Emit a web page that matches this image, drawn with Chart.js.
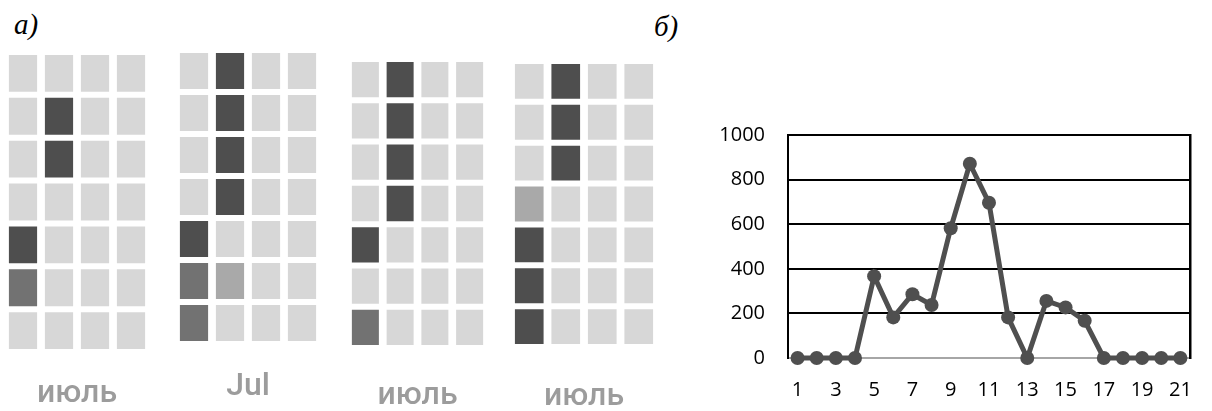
<!DOCTYPE html>
<html>
<head>
<meta charset="utf-8">
<script src="https://cdn.jsdelivr.net/npm/chart.js@4.4.0/dist/chart.umd.min.js"></script>
<style>
  html, body { margin: 0; padding: 0; background: #fff; }
  body { width: 1212px; height: 411px; position: relative; overflow: hidden; }
  .box { position: absolute; }
  .tag { position: absolute; font-family: "Liberation Serif", serif; font-style: italic; font-size: 29px; line-height: 1; color: #000; }
</style>
</head>
<body>
<div class="tag" style="left:14px; top:10px;">а)</div>
<div class="tag" style="left:654px; top:12px;">б)</div>

<div class="box" id="g1"><canvas id="heat1"></canvas></div>
<div class="box" id="g2"><canvas id="heat2"></canvas></div>
<div class="box" id="g3"><canvas id="heat3"></canvas></div>
<div class="box" id="g4"><canvas id="heat4"></canvas></div>
<div class="box" id="lineBox" style="left:690px; top:100px; width:522px; height:311px;"><canvas id="lineChart"></canvas></div>

<script>
// panel a: four 4x7 grids, rows listed top to bottom
// 0 = empty, 1 = pale, 2 = medium, 3 = dark
const heatTitles = ['июль', 'Jul', 'июль', 'июль'];
const heatColumns = ['1', '2', '3', '4'];

const heatGrid1 = [
  [0, 0, 0, 0],
  [0, 3, 0, 0],
  [0, 3, 0, 0],
  [0, 0, 0, 0],
  [3, 0, 0, 0],
  [2, 0, 0, 0],
  [0, 0, 0, 0]
];
const heatGrid2 = [
  [0, 3, 0, 0],
  [0, 3, 0, 0],
  [0, 3, 0, 0],
  [0, 3, 0, 0],
  [3, 0, 0, 0],
  [2, 1, 0, 0],
  [2, 0, 0, 0]
];
const heatGrid3 = [
  [0, 3, 0, 0],
  [0, 3, 0, 0],
  [0, 3, 0, 0],
  [0, 3, 0, 0],
  [3, 0, 0, 0],
  [0, 0, 0, 0],
  [2, 0, 0, 0]
];
const heatGrid4 = [
  [0, 3, 0, 0],
  [0, 3, 0, 0],
  [0, 3, 0, 0],
  [1, 0, 0, 0],
  [3, 0, 0, 0],
  [3, 0, 0, 0],
  [3, 0, 0, 0]
];

// panel b
const days = ['1', '2', '3', '4', '5', '6', '7', '8', '9', '10', '11',
  '12', '13', '14', '15', '16', '17', '18', '19', '20', '21'];
const counts = [0, 0, 0, 0, 367, 182, 286, 238, 582, 871, 696,
  182, 0, 256, 227, 167, 0, 0, 0, 0, 0];

Chart.defaults.animation = false;

const levelColors = ['#d7d7d7', '#a9a9a9', '#727272', '#4e4e4e'];

// where each grid sits on the page
const heatLayout = [
  { left: 5, top: 52, width: 144, area: 300, pad: 24 },
  { left: 176, top: 50, width: 144, area: 294, pad: 25 },
  { left: 348, top: 59, width: 139, area: 289, pad: 30 },
  { left: 511, top: 61, width: 146, area: 286, pad: 32 }
];

function makeHeat(canvasId, boxId, grid, title, lay) {
  const box = document.getElementById(boxId);
  box.style.left = lay.left + 'px';
  box.style.top = lay.top + 'px';
  box.style.width = lay.width + 'px';
  box.style.height = (lay.area + lay.pad + 36) + 'px';

  // stacked bars: first dataset is the bottom row
  const datasets = grid.slice().reverse().map(function(row) {
    return {
      data: row.map(function() { return 1; }),
      backgroundColor: row.map(function(v) { return levelColors[v]; }),
      borderColor: '#ffffff',
      borderWidth: 3,
      borderSkipped: false,
      barPercentage: 0.95,
      categoryPercentage: 1
    };
  });

  new Chart(document.getElementById(canvasId).getContext('2d'), {
    type: 'bar',
    data: { labels: heatColumns, datasets: datasets },
    options: {
      responsive: true,
      maintainAspectRatio: false,
      layout: { padding: 0 },
      plugins: {
        legend: { display: false },
        tooltip: { enabled: false },
        title: {
          display: true,
          position: 'bottom',
          text: title,
          color: '#9c9c9c',
          font: { family: 'Roboto', size: 32, weight: '500', lineHeight: 1.125 },
          padding: { top: lay.pad, bottom: 0 }
        }
      },
      scales: {
        x: { stacked: true, display: false },
        y: { stacked: true, display: false, min: 0, max: 7 }
      }
    }
  });
}

makeHeat('heat1', 'g1', heatGrid1, heatTitles[0], heatLayout[0]);
makeHeat('heat2', 'g2', heatGrid2, heatTitles[1], heatLayout[1]);
makeHeat('heat3', 'g3', heatGrid3, heatTitles[2], heatLayout[2]);
makeHeat('heat4', 'g4', heatGrid4, heatTitles[3], heatLayout[3]);

const tickFont = { family: 'Open Sans', size: 20 };

new Chart(document.getElementById('lineChart').getContext('2d'), {
  type: 'line',
  data: {
    labels: days,
    datasets: [{
      data: counts,
      borderColor: '#4f4f4f',
      backgroundColor: '#4f4f4f',
      borderWidth: 5,
      pointRadius: 7,
      pointBorderWidth: 0,
      pointBackgroundColor: '#4f4f4f',
      tension: 0,
      clip: false
    }]
  },
  options: {
    responsive: true,
    maintainAspectRatio: false,
    layout: { padding: { top: 33, right: 0, bottom: 0, left: 0 } },
    plugins: {
      legend: { display: false },
      tooltip: { enabled: false }
    },
    scales: {
      x: {
        offset: true,
        grid: { display: false, drawTicks: false },
        border: { display: false },
        ticks: {
          autoSkip: false,
          maxRotation: 0,
          padding: 20,
          color: '#000',
          font: tickFont,
          callback: function(value, index) {
            return index % 2 === 0 ? days[index] : '';
          }
        },
        afterFit: function(scale) { scale.height = 53; }
      },
      y: {
        min: 0,
        max: 1000,
        ticks: {
          stepSize: 200,
          padding: 23,
          color: '#000',
          font: tickFont,
          callback: function(value) { return String(value); }
        },
        grid: {
          drawTicks: false,
          lineWidth: 2,
          color: function(ctx) {
            return ctx.tick && ctx.tick.value === 0 ? '#a6a6a6' : '#000000';
          }
        },
        border: { display: true, color: '#000', width: 2 },
        afterFit: function(scale) { scale.width = 98; }
      },
      y2: {
        position: 'right',
        min: 0,
        max: 1000,
        ticks: { display: false },
        grid: { display: false, drawTicks: false },
        border: { display: true, color: '#000', width: 2.5 },
        afterFit: function(scale) { scale.width = 3; }
      }
    }
  }
});
</script>
</body>
</html>
